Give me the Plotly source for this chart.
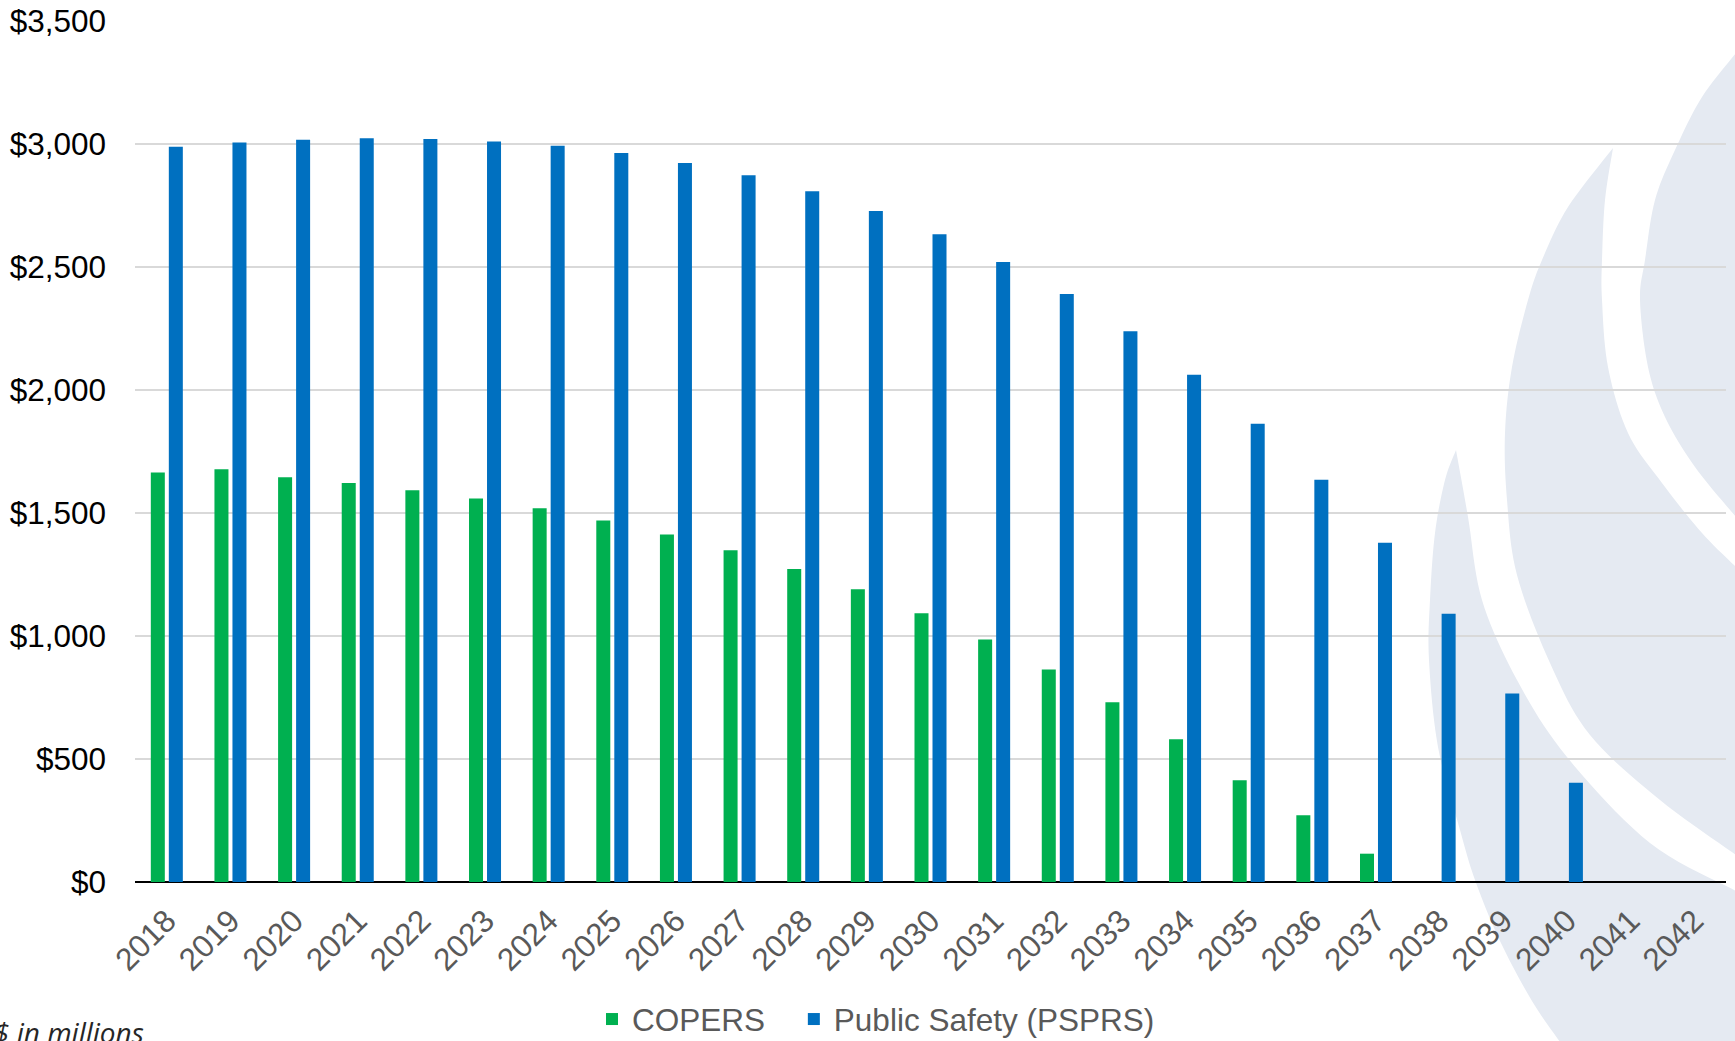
import plotly.graph_objects as go

# ---------------- data ----------------
years = [str(y) for y in range(2018, 2043)]
copers = [1664, 1677, 1644, 1621, 1592, 1558, 1518, 1469, 1412, 1348, 1272, 1189,
          1092, 985, 863, 730, 580, 413, 271, 115, 0, 0, 0, 0, 0]
psprs = [2987, 3004, 3015, 3022, 3019, 3008, 2991, 2962, 2921, 2871, 2806, 2726,
         2632, 2519, 2389, 2237, 2061, 1862, 1634, 1378, 1090, 766, 403, 0, 0]
series_names = ["COPERS", "Public Safety (PSPRS)"]
series_colors = ["#00B050", "#0070C0"]
y_ticks = [0, 500, 1000, 1500, 2000, 2500, 3000, 3500]
y_tick_text = ["$" + f"{v:,}" for v in y_ticks]
note_text = "$ in millions"

# ---------------- layout geometry ----------------
W, H = 1735, 1041
ML, MR, MT, MB = 135, 9, 20, 159
PW, PH = W - ML - MR, H - MT - MB


def to_paper(x, y):
    return (x - ML) / PW, (H - MB - y) / PH


def catmull(pts, n=10):
    out = []
    for i in range(len(pts) - 1):
        p0 = pts[i - 1] if i > 0 else pts[i]
        p1, p2 = pts[i], pts[i + 1]
        p3 = pts[i + 2] if i + 2 < len(pts) else pts[i + 1]
        for k in range(n):
            t = k / n
            t2, t3 = t * t, t * t * t
            x = 0.5 * ((2 * p1[0]) + (-p0[0] + p2[0]) * t +
                       (2 * p0[0] - 5 * p1[0] + 4 * p2[0] - p3[0]) * t2 +
                       (-p0[0] + 3 * p1[0] - 3 * p2[0] + p3[0]) * t3)
            y = 0.5 * ((2 * p1[1]) + (-p0[1] + p2[1]) * t +
                       (2 * p0[1] - 5 * p1[1] + 4 * p2[1] - p3[1]) * t2 +
                       (-p0[1] + 3 * p1[1] - 3 * p2[1] + p3[1]) * t3)
            out.append((x, y))
    out.append(pts[-1])
    return out


def path_from(segments):
    pts = []
    for seg, smooth in segments:
        pts.extend(catmull(seg) if smooth else seg)
    s = ""
    for i, (x, y) in enumerate(pts):
        px, py = to_paper(x, y)
        s += ("M" if i == 0 else "L") + f"{px:.5f},{py:.5f} "
    return s + "Z"


# watermark logo (decorative background)
shape_c = path_from([
    ([(1736, 53), (1702, 97), (1675, 150), (1655, 200), (1645, 260), (1640, 300),
      (1648, 367), (1665, 417), (1695, 467), (1736, 517)], True),
])
shape_b = path_from([
    ([(1613, 148), (1568, 207), (1542, 260), (1528, 300), (1512, 367), (1505, 433),
      (1507, 500), (1517, 575), (1550, 663), (1590, 735), (1660, 800), (1736, 855)], True),
    ([(1736, 567)], False),
    ([(1736, 567), (1702, 533), (1662, 483), (1628, 433), (1608, 367), (1602, 300),
      (1602, 260), (1605, 200), (1613, 148)], True),
])
shape_d = path_from([
    ([(1456, 450), (1445, 480), (1435, 533), (1430, 600), (1429, 660), (1438, 747),
      (1460, 830), (1475, 880), (1500, 941), (1532, 1001), (1560, 1042)], True),
    ([(1736, 1042), (1736, 891)], False),
    ([(1736, 891), (1650, 843), (1567, 757), (1517, 680), (1482, 600), (1468, 517),
      (1456, 450)], True),
])

wm_color = "#E5EAF2"
shapes = [dict(type="path", path=p, xref="paper", yref="paper", fillcolor=wm_color,
               line=dict(width=0), layer="below") for p in (shape_c, shape_b, shape_d)]

# ---------------- figure ----------------
# trailing spaces widen the first legend entry to match the reference spacing
legend_labels = [series_names[0] + "\u00a0\u00a0\u2009", series_names[1]]

fig = go.Figure()
for name, vals, col in zip(legend_labels, [copers, psprs], series_colors):
    fig.add_trace(go.Bar(x=years, y=vals, name=name, marker=dict(color=col, line=dict(width=0))))

note_x, _ = to_paper(146, 0)
_, note_y = to_paper(0, 1011)
leg_x, _ = to_paper(592, 0)

fig.update_layout(
    width=W, height=H,
    margin=dict(l=ML, r=MR, t=MT, b=MB, pad=0, autoexpand=False),
    paper_bgcolor="white",
    plot_bgcolor="rgba(0,0,0,0)",
    barmode="group",
    bargap=0.434,
    bargroupgap=0.222,
    font=dict(family="Liberation Sans, Arial, sans-serif", size=32, color="#595959"),
    showlegend=True,
    legend=dict(orientation="h", x=leg_x, xanchor="left", y=-0.159, yanchor="middle",
                font=dict(size=31.5, color="#595959"), bgcolor="rgba(0,0,0,0)",
                traceorder="normal"),
    shapes=shapes,
    annotations=[dict(text=note_text, xref="paper", yref="paper", x=note_x, y=note_y,
                      xanchor="right", yanchor="top", showarrow=False,
                      font=dict(family="Open Sans, sans-serif", size=28, color="#262626",
                                style="italic"))],
    xaxis=dict(type="category", tickangle=-45, showgrid=False, zeroline=False,
               showline=False, ticks="", automargin=False, ticklabelstandoff=13,
               tickfont=dict(size=31.5, color="#595959")),
    yaxis=dict(range=[0, 3502], tickvals=y_ticks, ticktext=y_tick_text,
               showgrid=True, gridcolor="#D9D9D9", gridwidth=1.5,
               zeroline=True, zerolinecolor="#000000", zerolinewidth=2,
               showline=False, ticks="", ticklabelstandoff=28, automargin=False,
               tickfont=dict(size=31.5, color="#000000")),
)

fig.write_html(
    "out.html",
    config={"displayModeBar": False},
    post_script="document.body.style.margin='0';document.body.style.overflow='hidden';",
)
